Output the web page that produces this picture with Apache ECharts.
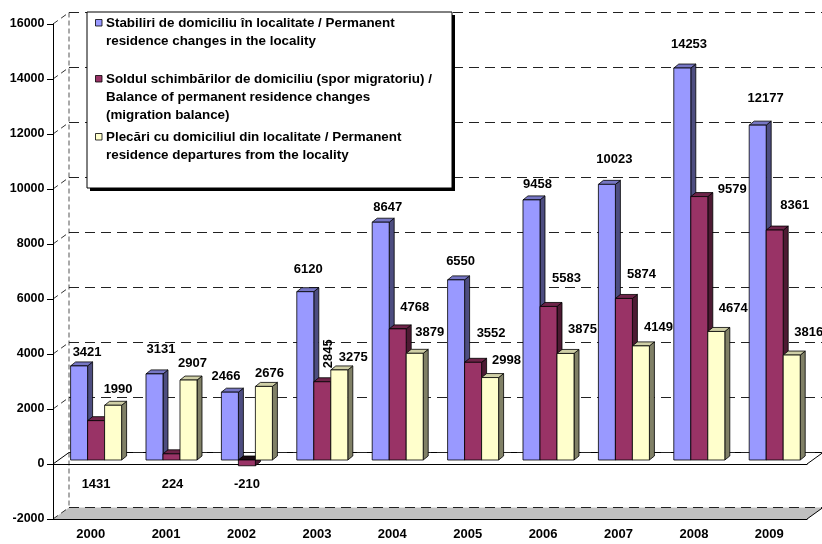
<!DOCTYPE html>
<html>
<head>
<meta charset="utf-8">
<script src="https://cdn.jsdelivr.net/npm/echarts@6/dist/echarts.min.js"></script>
<style>
  html, body { margin: 0; padding: 0; background: #fff; }
  #chart { width: 822px; height: 544px; }
</style>
</head>
<body>
<div id="chart"></div>
<script>
// ---- data ----
const years = ['2000', '2001', '2002', '2003', '2004', '2005', '2006', '2007', '2008', '2009'];
const arrivals = [3421, 3131, 2466, 6120, 8647, 6550, 9458, 10023, 14253, 12177];
const balance = [1431, 224, -210, 2845, 4768, 3552, 5583, 5874, 9579, 8361];
const departures = [1990, 2907, 2676, 3275, 3879, 2998, 3875, 4149, 4674, 3816];
const yTicks = [-2000, 0, 2000, 4000, 6000, 8000, 10000, 12000, 14000, 16000];
const seriesNames = [
  'Stabiliri de domiciliu în localitate / Permanent\nresidence changes in the locality',
  'Soldul schimbărilor de domiciliu (spor migratoriu) /\nBalance of permanent residence changes\n(migration balance)',
  'Plecări cu domiciliul din localitate / Permanent\nresidence departures from the locality'
];

// ---- 3D look ----
const WALL = [16, -11.5];        // offset from front plane to back wall
const BAR_SHIFT = [5.4, -4];     // bar front face sits a little inside the box
const BAR_DEPTH = [5, -4];       // thickness of each column
const BAR_RATIO = 0.2255;        // column width as share of a category
const COLORS = [
  { front: '#9999ff', side: '#4d4d80', top: '#7676c4' },
  { front: '#993366', side: '#4d1a33', top: '#6e2449' },
  { front: '#ffffcc', side: '#808066', top: '#cfcfa6' }
];
const FONT = '"Liberation Sans", Arial, sans-serif';

// value label placement: [dx, dy] from the top centre of each column's front face
const labelNudge = [
  [[8, -14], [6.5, -24], [-4, -16], [3, -22], [7, -15], [4.5, -18], [6, -15], [7.5, -25], [6.7, -24], [8, -27]],
  [[0, 64], [1, 31], [0, 19], [5.7, -28], [17, -21], [18, -29], [18, -28], [17.5, -24], [33, -7], [20, -25]],
  [[5, -16], [4, -17], [5.5, -12.5], [14, -13], [15, -21], [16.4, -17.6], [17, -24], [17.5, -18], [17, -23.5], [17, -23]]
];
const labelRotated = [[], [3], []];

function renderColumn(s, values) {
  return function (params, api) {
    const i = api.value(0);
    const v = api.value(1);
    const base = api.coord([i, 0]);
    const tip = api.coord([i, v]);
    const catW = api.size([1, 0])[0];
    const bw = catW * BAR_RATIO;
    const x0 = base[0] - 1.5 * bw + s * bw + BAR_SHIFT[0];
    const x1 = x0 + bw;
    const yb = base[1] + BAR_SHIFT[1];
    const yt = tip[1] + BAR_SHIFT[1];
    const top = Math.min(yb, yt), bot = Math.max(yb, yt);
    const dx = BAR_DEPTH[0], dy = BAR_DEPTH[1];
    const c = COLORS[s];
    const edge = { stroke: '#000', lineWidth: 0.8 };
    const nudge = labelNudge[s][i];
    const rotated = labelRotated[s].indexOf(i) >= 0;
    return {
      type: 'group',
      children: [
        { type: 'polygon', shape: { points: [[x1, top], [x1 + dx, top + dy], [x1 + dx, bot + dy], [x1, bot]] },
          style: Object.assign({ fill: c.side }, edge) },
        { type: 'polygon', shape: { points: [[x0, top], [x0 + dx, top + dy], [x1 + dx, top + dy], [x1, top]] },
          style: Object.assign({ fill: v < 0 ? '#1a0a12' : c.top }, edge) },
        { type: 'rect', shape: { x: x0, y: top, width: bw, height: bot - top },
          style: Object.assign({ fill: c.front }, edge) },
        { type: 'text', z2: 100,
          x: (x0 + x1) / 2 + nudge[0], y: yt + nudge[1],
          rotation: rotated ? Math.PI / 2 : 0,
          style: { text: String(values[i]), fill: '#000', font: 'bold 13px ' + FONT,
                   align: 'center', verticalAlign: 'middle' } }
      ]
    };
  };
}

// side wall, floor and the zero plate
function renderFrame(params, api) {
  const cs = params.coordSys;
  const v = api.value(1);
  const y = api.coord([0, v])[1];
  const L = cs.x, R = cs.x + cs.width;
  const wx = WALL[0], wy = WALL[1];
  const kids = [];
  if (params.dataIndex === 0) {
    const yTop = api.coord([0, yTicks[yTicks.length - 1]])[1];
    kids.push({ type: 'polygon', shape: { points: [[L, y], [R, y], [R + wx, y + wy], [L + wx, y + wy]] },
      style: { fill: '#c0c0c0' } });
    kids.push({ type: 'line', shape: { x1: R, y1: y, x2: R + wx, y2: y + wy },
      style: { stroke: '#000', lineWidth: 1 } });
    kids.push({ type: 'line', shape: { x1: L + wx, y1: yTop + wy, x2: L + wx, y2: y + wy },
      style: { stroke: '#555', lineWidth: 1, lineDash: [5, 3] } });
  }
  if (v === 0) {
    kids.push({ type: 'line', shape: { x1: L + wx, y1: y + wy, x2: R + wx + 20, y2: y + wy },
      style: { stroke: '#000', lineWidth: 1 } });
    kids.push({ type: 'line', shape: { x1: L, y1: y, x2: L + wx, y2: y + wy },
      style: { stroke: '#000', lineWidth: 1 } });
    kids.push({ type: 'line', shape: { x1: R, y1: y, x2: R + wx, y2: y + wy },
      style: { stroke: '#000', lineWidth: 1 } });
  } else {
    kids.push({ type: 'line', shape: { x1: L, y1: y, x2: L + wx, y2: y + wy },
      style: { stroke: '#333', lineWidth: 1, lineDash: [6, 4] } });
  }
  return { type: 'group', children: kids };
}

// legend box drawn as graphic so each swatch lines up with its first text line
const legendLineTops = [14, 70, 128];
const legendGraphic = [
  { type: 'rect', shape: { x: 90, y: 15, width: 365, height: 176 }, style: { fill: '#000' }, z: 10 },
  { type: 'rect', shape: { x: 87, y: 12, width: 365, height: 176 }, style: { fill: '#fff', stroke: '#000', lineWidth: 1 }, z: 10 }
];
seriesNames.forEach(function (name, s) {
  const t = legendLineTops[s];
  legendGraphic.push({ type: 'rect', z: 11, shape: { x: 95.5, y: t + 5.5, width: 6.5, height: 6.5 },
    style: { fill: COLORS[s].front, stroke: '#000', lineWidth: 0.8 } });
  legendGraphic.push({ type: 'text', z: 11, x: 106, y: t,
    style: { text: name, fill: '#000', font: 'bold 13.4px ' + FONT, lineHeight: 18, verticalAlign: 'top' } });
});

const chart = echarts.init(document.getElementById('chart'), null, { renderer: 'canvas' });
const valueSets = [arrivals, balance, departures];

chart.setOption({
  animation: false,
  backgroundColor: '#fff',
  grid: [
    { left: 53, right: 15, top: 24, bottom: 25, outerBoundsMode: 'none' },
    { left: 53 + WALL[0], right: 15 - WALL[0], top: 24 + WALL[1], bottom: 25 - WALL[1], outerBoundsMode: 'none' }
  ],
  xAxis: [
    { type: 'category', gridIndex: 0, data: years, position: 'bottom', z: 3,
      axisLine: { onZero: false, lineStyle: { color: '#000', width: 1 } },
      axisTick: { length: 7, lineStyle: { color: '#000' } },
      axisLabel: { color: '#000', fontWeight: 'bold', fontSize: 13, fontFamily: FONT, margin: 9 } },
    { type: 'category', gridIndex: 0, data: years, position: 'top', z: 1,
      axisLine: { onZero: true, lineStyle: { color: '#000', width: 1 } },
      axisTick: { inside: true, length: 6, lineStyle: { color: '#000' } },
      axisLabel: { show: false } },
    { type: 'category', gridIndex: 1, data: years, show: false }
  ],
  yAxis: [
    { type: 'value', gridIndex: 0, min: -2000, max: 16000, interval: 2000, z: 3,
      axisLine: { show: true, lineStyle: { color: '#000' } },
      axisTick: { show: true, length: 6, lineStyle: { color: '#000' } },
      axisLabel: { color: '#000', fontWeight: 'bold', fontSize: 12.5, fontFamily: FONT, margin: 8.5,
                   formatter: function (v) { return String(v); } },
      splitLine: { show: false } },
    { type: 'value', gridIndex: 1, min: -2000, max: 16000, interval: 2000,
      axisLine: { show: false }, axisTick: { show: false }, axisLabel: { show: false },
      splitLine: { show: true, lineStyle: { color: '#222', width: 1, type: [10, 6] } } }
  ],
  graphic: legendGraphic,
  series: [
    { type: 'custom', name: 'frame', xAxisIndex: 0, yAxisIndex: 0, z: -1, silent: true, clip: false,
      renderItem: renderFrame, data: yTicks.map(function (v) { return [0, v]; }) }
  ].concat(valueSets.map(function (values, s) {
    return {
      type: 'custom', name: seriesNames[s], xAxisIndex: 0, yAxisIndex: 0, z: 2, clip: false,
      renderItem: renderColumn(s, values),
      encode: { x: 0, y: 1 },
      data: values.map(function (v, i) { return [i, v]; })
    };
  }))
});
</script>
</body>
</html>
